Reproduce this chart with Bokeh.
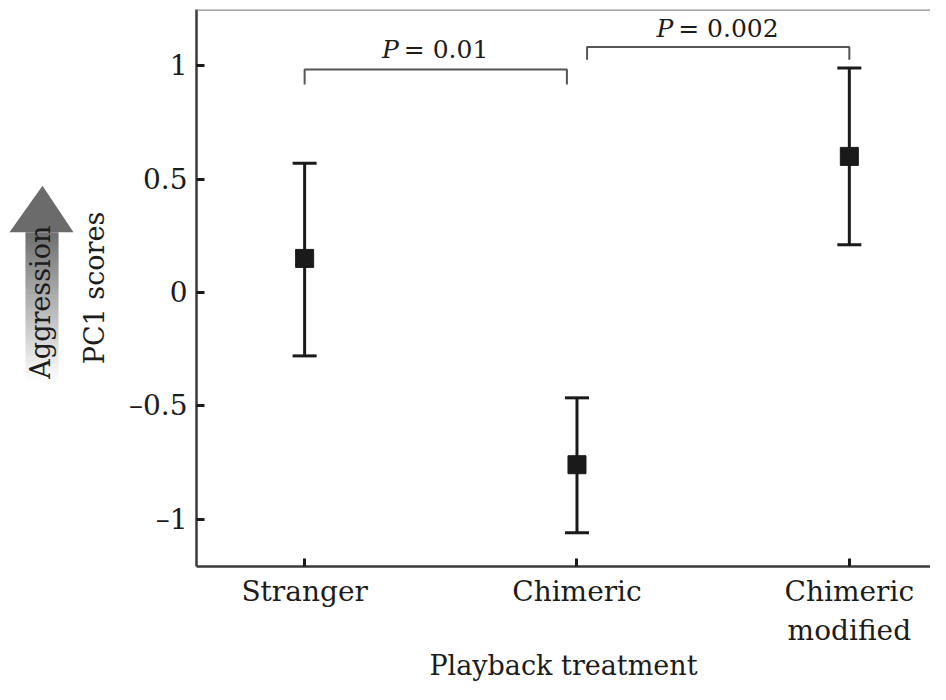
import numpy as np
from bokeh.plotting import figure
from bokeh.models import (ColumnDataSource, Whisker, TeeHead, Span, FixedTicker,
                          Range1d)
from bokeh.layouts import row
from bokeh.core.properties import value
from bokeh.embed import file_html
from bokeh.resources import INLINE

# ---- data ----
categories = ["Stranger", "Chimeric", "Chimeric\nmodified"]
x_pos = [1, 2, 3]
means = [0.15, -0.76, 0.60]
upper = [0.57, -0.465, 0.99]
lower = [-0.28, -1.06, 0.21]

y_ticks = [-1, -0.5, 0, 0.5, 1]
y_tick_labels = ["\u20131", "\u20130.5", "0", "0.5", "1"]

# significance brackets: left x, right x, bar height, leg bottom, p-value text
br_left = [1.0, 2.037]
br_right = [1.963, 3.0]
br_top = [0.983, 1.083]
br_bottom = [0.917, 1.026]
p_text = ["= 0.01", "= 0.002"]
p_label_y = [1.07, 1.165]

FONT = "DejaVu Serif"
TXT = "#1c1c1c"
Y0, Y1 = -1.209, 1.248
H = 684
TOP, BOTTOM = 9, 118

yr = Range1d(Y0, Y1)

# ---- arrow panel (decoration) ----
W_ARROW = 75
pa = figure(width=W_ARROW, height=H, output_backend="svg", toolbar_location=None,
            x_range=Range1d(0, W_ARROW), y_range=yr,
            x_axis_location=None, y_axis_location=None, min_border=0,
            min_border_top=TOP, min_border_bottom=BOTTOM)
pa.outline_line_color = None
pa.grid.visible = False

pa.patch([9, 42, 73], [0.265, 0.47, 0.265], fill_color="#6b6b6b", line_color=None)
n = 60
ys_edges = np.linspace(0.265, -0.40, n + 1)
cols = []
for i in range(n):
    t = i / (n - 1)
    g = int(112 + (255 - 112) * t)
    cols.append("#%02x%02x%02x" % (g, g, g))
pa.quad(left=25, right=58, top=ys_edges[:-1], bottom=ys_edges[1:] - 0.003,
        fill_color=cols, line_color=None)
pa.text(x=[40], y=[-0.043], text=["Aggression"], angle=np.pi / 2,
        text_align="center", text_baseline="middle",
        text_font=value(FONT), text_font_size="27px", text_color=TXT)

# ---- main plot ----
p = figure(width=855, height=H, output_backend="svg", toolbar_location=None,
           x_range=Range1d(0.603, 3.298), y_range=yr,
           min_border_left=121, min_border_right=0, min_border_top=TOP,
           min_border_bottom=BOTTOM)
p.outline_line_color = None
p.grid.visible = False

src = ColumnDataSource(dict(x=x_pos, m=means, up=upper, lo=lower))
wh = Whisker(base="x", upper="up", lower="lo", source=src, line_width=3,
             line_color="#1a1a1a",
             upper_head=TeeHead(size=24, line_width=3, line_color="#1a1a1a"),
             lower_head=TeeHead(size=24, line_width=3, line_color="#1a1a1a"))
p.add_layout(wh)
p.scatter("x", "m", source=src, marker="square", size=18, fill_color="#1a1a1a",
          line_color="#1a1a1a")

xs = [[l, l, r, r] for l, r in zip(br_left, br_right)]
ys = [[b, t, t, b] for b, t in zip(br_bottom, br_top)]
p.multi_line(xs, ys, line_color="#555555", line_width=2)

mids = [(l + r) / 2 for l, r in zip(br_left, br_right)]
offs = [-37, -45]
p.text(x=mids, y=p_label_y, text=["P", "P"], x_offset=offs, text_align="right",
       text_baseline="alphabetic", text_font=value(FONT),
       text_font_style="italic", text_font_size="25px", text_color=TXT)
p.text(x=mids, y=p_label_y, text=p_text, x_offset=[o + 5 for o in offs],
       text_align="left", text_baseline="alphabetic", text_font=value(FONT),
       text_font_size="25px", text_color=TXT)

p.add_layout(Span(location=Y1, dimension="width", line_color="#8a8a8a",
                  line_width=2.5))

for ax in (p.xaxis[0], p.yaxis[0]):
    ax.axis_line_color = "#3a3a3a"
    ax.axis_line_width = 2.5
    ax.major_tick_in = 8
    ax.major_tick_out = 0
    ax.major_tick_line_width = 3
    ax.major_tick_line_color = "#1a1a1a"
    ax.minor_tick_line_color = None
    ax.major_label_text_font = FONT
    ax.major_label_text_font_size = "28px"
    ax.major_label_text_color = TXT
    ax.axis_label_text_font = FONT
    ax.axis_label_text_font_size = "27px"
    ax.axis_label_text_font_style = "normal"
    ax.axis_label_text_color = TXT

p.xaxis.ticker = FixedTicker(ticks=x_pos)
p.xaxis.major_label_overrides = {x: c for x, c in zip(x_pos, categories)}
p.xaxis.major_label_standoff = 8
p.xaxis.axis_label = "Playback treatment"
p.xaxis.axis_label_standoff = 0

p.yaxis.ticker = FixedTicker(ticks=y_ticks)
p.yaxis.major_label_overrides = {t: l for t, l in zip(y_ticks, y_tick_labels)}
p.yaxis.major_label_standoff = 9
p.yaxis.axis_label = "PC1 scores"
p.yaxis.axis_label_standoff = 16

layout = row(pa, p)
open("out.html", "w").write(file_html(layout, INLINE))
